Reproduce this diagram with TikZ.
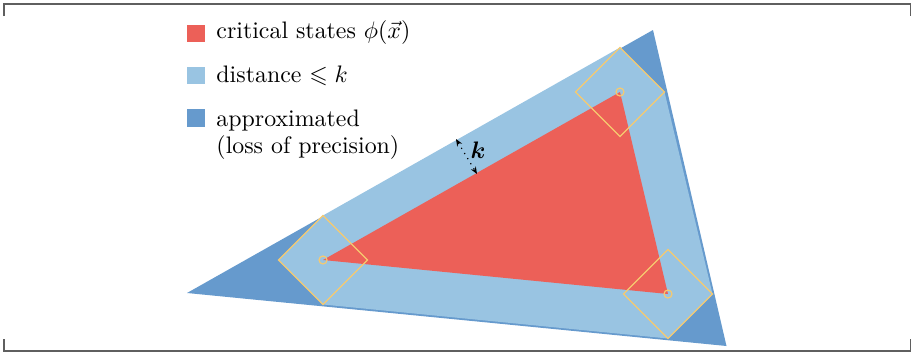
\documentclass[tikz,border=0pt]{standalone}
\usepackage{amsmath,amssymb}
\usetikzlibrary{calc,arrows.meta}

\definecolor{critred}{RGB}{236,96,88}
\definecolor{distblue}{RGB}{153,196,226}
\definecolor{approxblue}{RGB}{102,154,205}
\definecolor{boxyellow}{RGB}{246,202,112}
\definecolor{framegray}{RGB}{95,95,95}

\begin{document}
\begin{tikzpicture}[
    x=0.419pt, y=-0.419pt,
    frame/.style={draw=framegray, line width=0.6pt},
    legendbox/.style={rectangle, minimum size=7.5pt, inner sep=0pt},
    legendtext/.style={anchor=base west, inner sep=0pt, align=left},
    ball/.style={draw=boxyellow, line width=0.5pt},
    kline/.style={dotted, line width=0.5pt, {Stealth[length=3pt,width=2.4pt]}-{Stealth[length=3pt,width=2.4pt]}},
]
    \useasboundingbox (0,0) rectangle (912,352);
    \def\rad{44.5}

    % Corners of the critical region
    \coordinate (c1) at (323,260);
    \coordinate (c2) at (620,92);
    \coordinate (c3) at (668,294);

    % Approximated region
    \coordinate (o1) at (187,293);
    \coordinate (o2) at (653,30);
    \coordinate (o3) at (726.5,346);
    \fill[approxblue] (o1) -- (o2) -- (o3) -- cycle;

    % Distance <= k
    \fill[distblue] ($(c1)+(-\rad,0)$) -- ($(c1)+(0,-\rad)$) -- ($(c2)+(0,-\rad)$)
        -- ($(c2)+(\rad,0)$) -- ($(c3)+(\rad,0)$) -- ($(c3)+(0,\rad)$)
        -- ($(c1)+(0,\rad)$) -- cycle;

    % Critical states
    \fill[critred] (c1) -- (c2) -- (c3) -- cycle;

    % Balls round the corners
    \foreach \c in {c1,c2,c3} {
        \draw[ball] ($(\c)+(-\rad,0)$) -- ($(\c)+(0,-\rad)$) -- ($(\c)+(\rad,0)$)
            -- ($(\c)+(0,\rad)$) -- cycle;
        \draw[ball] (\c) circle (4);
    }

    % Distance k
    \coordinate (ka) at (456,139);
    \coordinate (kb) at (477,174);
    \draw[kline] (ka) -- (kb);
    \node (klabel) at (478,150) {$\boldsymbol{k}$};

    % Legend
    \node[legendbox, fill=critred] (l1) at (196,33.5) {};
    \node[legendbox, fill=distblue] (l2) at (196,75.5) {};
    \node[legendbox, fill=approxblue] (l3) at (196,118) {};
    \node[legendtext] (t1) at (216,38) {critical states $\phi(\vec{x})$};
    \node[legendtext] (t2) at (216,82) {distance $\leqslant k$};
    \node[legendtext] (t3) at (216,153) {approximated\\[-1pt](loss of precision)};

    % Frame
    \draw[frame] (4,16) -- (4,4) -- (910.5,4) -- (910.5,16);
    \draw[frame] (4,339) -- (4,351) -- (910.5,351) -- (910.5,339);
\end{tikzpicture}
\end{document}
